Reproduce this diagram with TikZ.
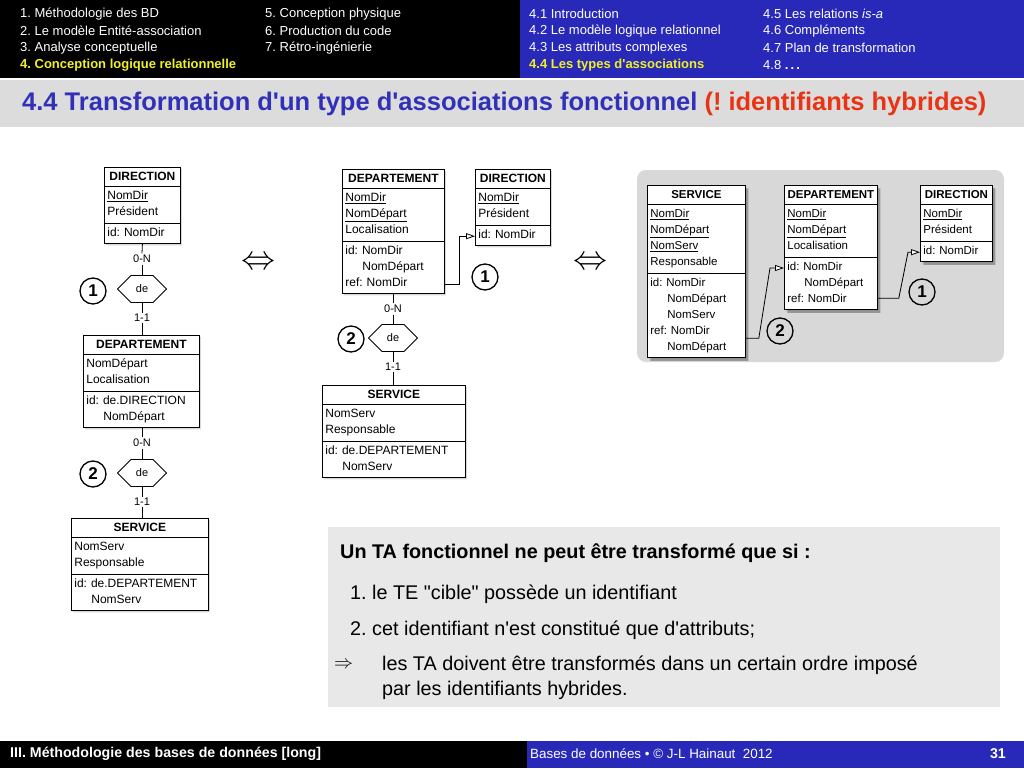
\documentclass[tikz,border=0pt]{standalone}
\usepackage{fontspec}
\setmainfont{Liberation Sans}[Ligatures=TeXOff]
\usetikzlibrary{shapes.multipart,shapes.symbols,shadows,arrows.meta}
\definecolor{hdrblue}{RGB}{40,40,185}
\definecolor{hdryellow}{RGB}{240,240,40}
\definecolor{titleblue}{RGB}{48,48,184}
\definecolor{titlered}{RGB}{232,52,20}
\definecolor{band}{RGB}{220,220,220}
\definecolor{panel}{RGB}{216,216,216}
\definecolor{notebox}{RGB}{232,232,232}
\newcommand{\ttl}[1]{\rule[-3.5pt]{0pt}{14pt}\hfill\textbf{#1}\hfill\null}
\newcommand{\rw}[1]{\strut#1}
\newcommand{\ind}{\hspace*{17pt}}
\frenchspacing

\begin{document}
\begin{tikzpicture}[x=1pt,y=-1pt,
  entity/.style={rectangle split, rectangle split parts=3, draw, fill=white, anchor=north west,
    line width=0.8pt, inner xsep=3pt, inner ysep=2pt, align=left,
    font=\fontsize{12}{16}\selectfont, drop shadow={shadow xshift=1.5pt, shadow yshift=-1.5pt, fill=black!30}},
  entsmall/.style={entity, font=\fontsize{11.5}{16}\selectfont, drop shadow={shadow xshift=3pt, shadow yshift=-3pt, fill=black!65}},
  rel/.style={signal, signal to=east and west, draw, fill=white, line width=0.8pt,
    minimum width=49pt, minimum height=27pt, inner sep=1pt, font=\fontsize{11}{11}\selectfont},
  card/.style={inner sep=1.5pt, font=\fontsize{11}{12}\selectfont},
  num/.style={circle, draw, line width=1.3pt, minimum size=26pt, inner sep=0pt, font=\fontsize{17}{17}\selectfont\bfseries},
  link/.style={line width=0.8pt},
  refl/.style={line width=0.8pt, -{Triangle[fill=white, length=9pt, width=6pt]}},
  hdr/.style={anchor=west, inner sep=0pt, text=white, font=\fontsize{13}{13}\selectfont},
  note/.style={anchor=west, inner sep=0pt, font=\fontsize{19.8}{20}\selectfont},
  foot/.style={anchor=west, inner sep=0pt, text=white, font=\fontsize{14.2}{15}\selectfont}]
\useasboundingbox (0,0) rectangle (1024,768);
\fill[white] (0,0) rectangle (1024,768);
\fill[black] (0,0) rectangle (520,78);
\fill[hdrblue] (520,0) rectangle (1024,78);
\fill[band] (0,80) rectangle (1024,127);
\node[hdr] (h1) at (20,14) {1. Méthodologie des BD};
\node[hdr] (h2) at (20,31) {2. Le modèle Entité-association};
\node[hdr] (h3) at (20,48) {3. Analyse conceptuelle};
\node[hdr, text=hdryellow] (h4) at (20,65) {\textbf{4. Conception logique relationnelle}};
\node[hdr] (h5) at (265,14) {5. Conception physique};
\node[hdr] (h6) at (265,31) {6. Production du code};
\node[hdr] (h7) at (265,48) {7. Rétro-ingénierie};
\node[hdr] (s1) at (529,14) {4.1 Introduction};
\node[hdr] (s2) at (529,31) {4.2 Le modèle logique relationnel};
\node[hdr] (s3) at (529,48) {4.3 Les attributs complexes};
\node[hdr, text=hdryellow] (s4) at (529,65) {\textbf{4.4 Les types d'associations}};
\node[hdr] (s5) at (763,14) {4.5 Les relations \textit{is-a}};
\node[hdr] (s6) at (763,31) {4.6 Compléments};
\node[hdr] (s7) at (763,48) {4.7 Plan de transformation};
\node[hdr] (s8) at (763,65) {4.8 \textbf{.\,.\,.}};
\node[anchor=west, inner sep=0pt, font=\fontsize{25.5}{26}\selectfont\bfseries] (title) at (22,104)
  {\textcolor{titleblue}{4.4 Transformation d'un type d'associations fonctionnel} \textcolor{titlered}{(! identifiants hybrides)}};
\node[entity, text width=70pt] (dirA) at (104,167) {\ttl{DIRECTION}
  \nodepart{two}\rw{\underline{NomDir}}\\\rw{Président}
  \nodepart{three}\rw{id: NomDir}};
\node[card] (c0a) at (142,259) {0-N};
\node[rel] (deA) at (142,289) {de};
\node[card] (c1a) at (142,318) {1-1};
\node[num] (n1a) at (93,291) {1};
\node[entity, text width=110pt] (depA) at (83,335) {\ttl{DEPARTEMENT}
  \nodepart{two}\rw{NomDépart}\\\rw{Localisation}
  \nodepart{three}\rw{id: de.DIRECTION}\\\rw{\ind NomDépart}};
\node[card] (c0b) at (142,443) {0-N};
\node[rel] (deB) at (142,473) {de};
\node[card] (c1b) at (142,502) {1-1};
\node[num] (n2a) at (93,474) {2};
\node[entity, text width=131pt] (svcA) at (71,518) {\ttl{SERVICE}
  \nodepart{two}\rw{NomServ}\\\rw{Responsable}
  \nodepart{three}\rw{id: de.DEPARTEMENT}\\\rw{\ind NomServ}};
\draw[link] (dirA.south) -- (c0a.north);
\draw[link] (c0a.south) -- (deA.north);
\draw[link] (deA.south) -- (c1a.north);
\draw[link] (c1a.south) -- (c1a.south |- depA.north);
\draw[link] (c0b.north |- depA.south) -- (c0b.north);
\draw[link] (c0b.south) -- (deB.north);
\draw[link] (deB.south) -- (c1b.north);
\draw[link] (c1b.south) -- (c1b.south |- svcA.north);
\node (eq1) at (258,263) {\scalebox{3.4}{$\Leftrightarrow$}};
\node[entity, text width=96pt] (depB) at (342,169) {\ttl{DEPARTEMENT}
  \nodepart{two}\rw{\underline{NomDir}}\\\rw{\underline{NomDépart}}\\\rw{Localisation}
  \nodepart{three}\rw{id: NomDir}\\\rw{\ind NomDépart}\\\rw{ref: NomDir}};
\node[entity, text width=69pt] (dirB) at (475,169) {\ttl{DIRECTION}
  \nodepart{two}\rw{\underline{NomDir}}\\\rw{Président}
  \nodepart{three}\rw{id: NomDir}};
\draw[refl] ([yshift=10pt]depB.south east) -- ++(15,0) |- ([yshift=10pt]dirB.south west);
\node[num] (n1b) at (485,277) {1};
\node[card] (c0c) at (393,309) {0-N};
\node[rel] (deC) at (393,338) {de};
\node[card] (c1c) at (393,367) {1-1};
\node[num] (n2b) at (351,339) {2};
\node[entity, text width=137pt] (svcB) at (322,385) {\ttl{SERVICE}
  \nodepart{two}\rw{NomServ}\\\rw{Responsable}
  \nodepart{three}\rw{id: de.DEPARTEMENT}\\\rw{\ind NomServ}};
\draw[link] (c0c.north |- depB.south) -- (c0c.north);
\draw[link] (c0c.south) -- (deC.north);
\draw[link] (deC.south) -- (c1c.north);
\draw[link] (c1c.south) -- (c1c.south |- svcB.north);
\node (eq2) at (590,263) {\scalebox{3.4}{$\Leftrightarrow$}};
\fill[panel, rounded corners=9pt] (637,170) rectangle (1004,362);
\node[entsmall, text width=92pt] (svcC) at (647,185) {\ttl{SERVICE}
  \nodepart{two}\rw{\underline{NomDir}}\\\rw{\underline{NomDépart}}\\\rw{\underline{NomServ}}\\\rw{Responsable}
  \nodepart{three}\rw{id: NomDir}\\\rw{\ind NomDépart}\\\rw{\ind NomServ}\\\rw{ref: NomDir}\\\rw{\ind NomDépart}};
\node[entsmall, text width=87pt] (depC) at (784,185) {\ttl{DEPARTEMENT}
  \nodepart{two}\rw{\underline{NomDir}}\\\rw{\underline{NomDépart}}\\\rw{Localisation}
  \nodepart{three}\rw{id: NomDir}\\\rw{\ind NomDépart}\\\rw{ref: NomDir}};
\node[entsmall, text width=66pt] (dirC) at (920,185) {\ttl{DIRECTION}
  \nodepart{two}\rw{\underline{NomDir}}\\\rw{Président}
  \nodepart{three}\rw{id: NomDir}};
\draw[refl] ([yshift=20pt]svcC.south east) -- ++(13,0) -- ([xshift=-14pt,yshift=-83pt]depC.north west) -- ([yshift=-83pt]depC.north west);
\draw[refl] ([yshift=12pt]depC.south east) -- ++(21,0) -- ([xshift=-12pt,yshift=10pt]dirC.south west) -- ([yshift=10pt]dirC.south west);
\node[num] (n1c) at (922,292) {1};
\node[num] (n2c) at (780,331) {2};
\fill[notebox] (328,527) rectangle (1000,707);
\node[note, font=\fontsize{19.8}{20}\selectfont\bfseries] (nt0) at (340,553) {Un TA fonctionnel ne peut être transformé que si :};
\node[note] (nt1) at (350,594) {1. le TE "cible" possède un identifiant};
\node[note] (nt2) at (350,630) {2. cet identifiant n'est constitué que d'attributs;};
\node[anchor=west, inner sep=0pt] (nt3) at (334,665) {\scalebox{1.9}{$\Rightarrow$}};
\node[note] (nt4) at (382,665) {les TA doivent être transformés dans un certain ordre imposé};
\node[note] (nt5) at (382,690) {par les identifiants hybrides.};
\fill[black] (0,741) rectangle (527,768);
\fill[hdrblue] (527,741) rectangle (1024,768);
\node[foot, font=\fontsize{14.2}{15}\selectfont\bfseries] (ft1) at (10,754) {III. Méthodologie des bases de données [long]};
\node[foot, font=\fontsize{13.4}{15}\selectfont] (ft2) at (530,754) {Bases de données \textbullet{} \textcopyright{} J-L Hainaut\ \ 2012};
\node[foot, anchor=east, font=\fontsize{14.2}{15}\selectfont\bfseries] (ft3) at (1006,754) {31};
\end{tikzpicture}
\end{document}
